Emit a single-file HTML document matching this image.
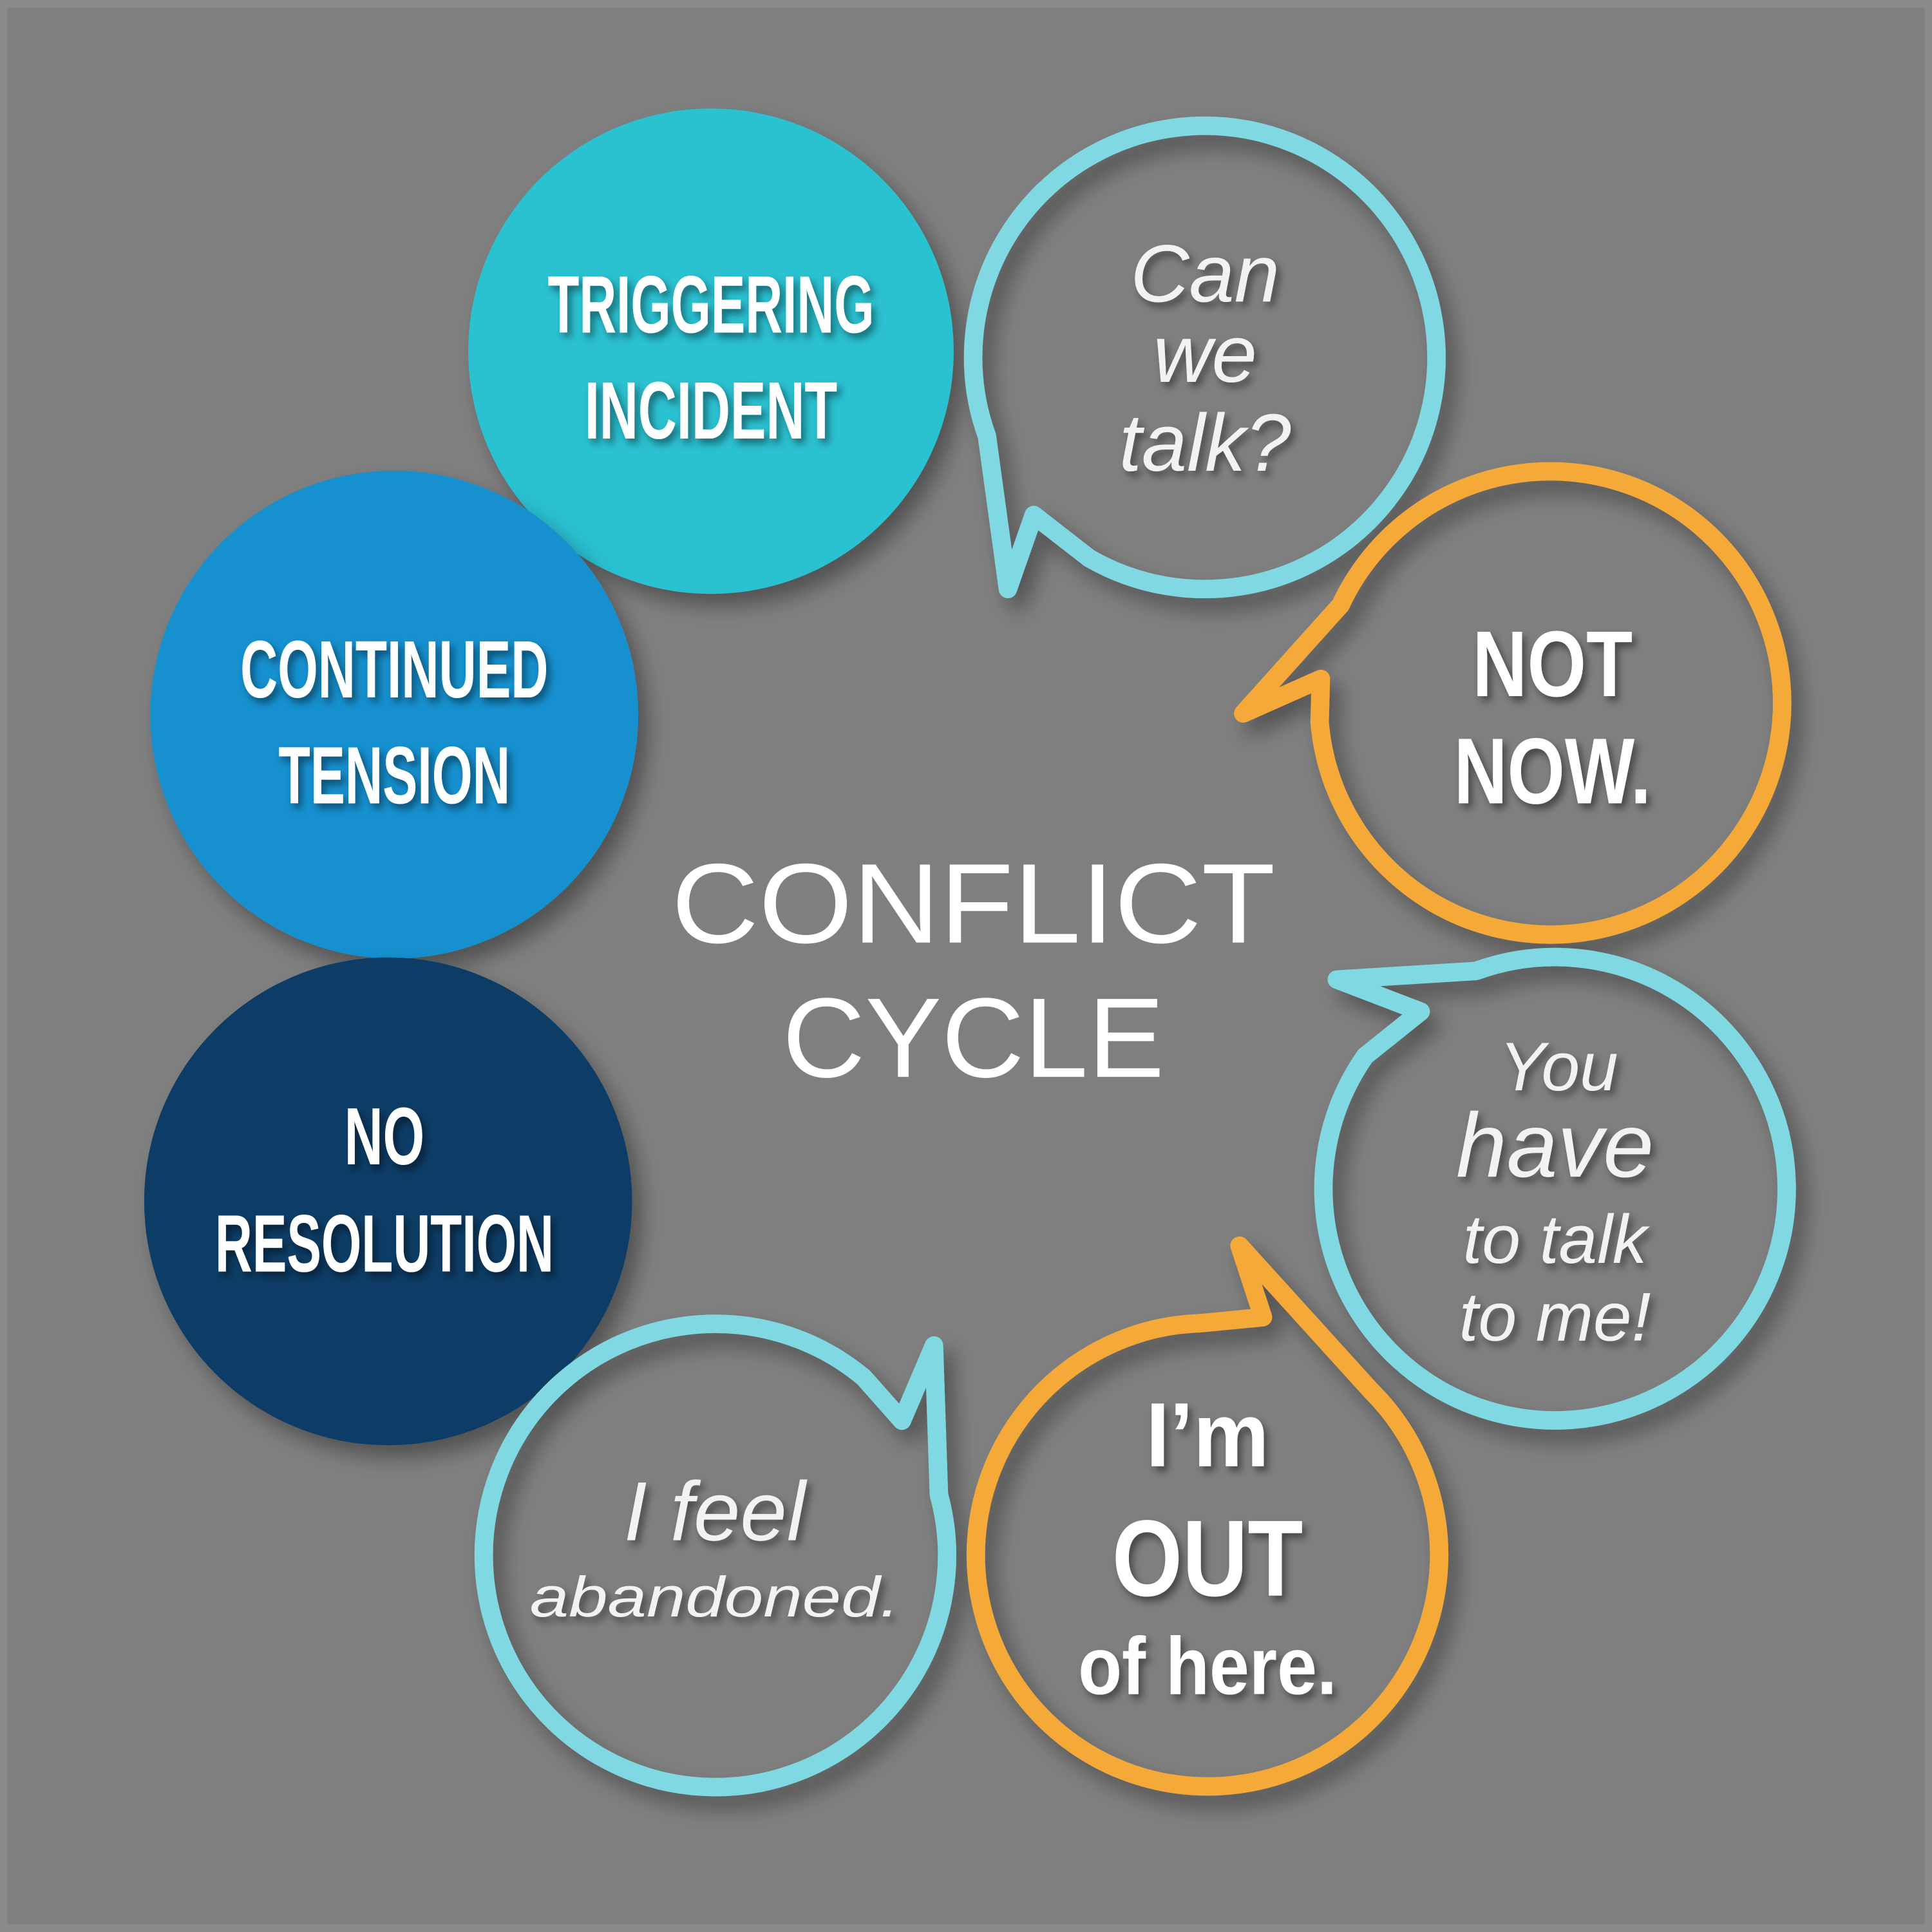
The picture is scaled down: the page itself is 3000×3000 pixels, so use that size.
<!DOCTYPE html>
<html><head><meta charset="utf-8"><style>
html,body{margin:0;padding:0;background:#7f7f7f}
svg{display:block}
.c{font-family:"Liberation Sans Narrow","Liberation Sans",sans-serif;font-weight:bold;fill:#fff;text-anchor:middle}
.i{font-family:"Liberation Sans",sans-serif;font-style:italic;fill:#f2f2f2;text-anchor:middle}
.t{font-family:"Liberation Sans",sans-serif;fill:#fff;text-anchor:middle}
</style></head><body>
<svg width="3000" height="3000" viewBox="0 0 1568 1568" xmlns="http://www.w3.org/2000/svg">
<defs>
<filter id="sh" x="-20%" y="-20%" width="150%" height="150%"><feDropShadow dx="8" dy="10" stdDeviation="8" flood-color="#000" flood-opacity="0.35"/></filter>
<filter id="ts" x="-10%" y="-20%" width="130%" height="150%"><feDropShadow dx="3" dy="4" stdDeviation="3" flood-color="#000" flood-opacity="0.45"/></filter>
</defs>
<rect width="1568" height="1568" fill="#7f7f7f"/>
<rect x="3" y="3" width="1562" height="1562" fill="none" stroke="#8a8a8a" stroke-width="6"/>

<circle cx="577" cy="285" r="197" fill="#2bc1d1" filter="url(#sh)"/>
<circle cx="320" cy="580" r="198" fill="#1990cf" filter="url(#sh)"/>
<circle cx="315" cy="975" r="198" fill="#0b3e66" filter="url(#sh)"/>

<g fill="none" stroke-width="15" stroke-linejoin="round" filter="url(#sh)">
 <!-- Can we talk: center 978,290 -->
 <path stroke="#7fd8e2" d="M801,354 A188,188 0 1 1 884,453 L839,418 L818,478 Z"/>
 <!-- Not now: center 1258,570 -->
 <path stroke="#f4a937" d="M1071,586 A188,188 0 1 0 1088,491 L1009,579 L1072,551 Z"/>
 <!-- You have: center 1262,965 -->
 <path stroke="#7fd8e2" d="M1108,857 A188,188 0 1 0 1198,788 L1085,795 L1153,821 Z"/>
 <!-- I'm out: center 980,1262 -->
 <path stroke="#f4a937" d="M973,1074 A188,188 0 1 0 1113,1129 L1006,1011 L1025,1069 Z"/>
 <!-- I feel: center 580,1262 -->
 <path stroke="#7fd8e2" d="M701,1118 A188,188 0 1 0 762,1213 L758,1092 L732,1153 Z"/>
</g>

<g class="c" filter="url(#ts)" font-size="66">
 <text x="577" y="270" textLength="265" lengthAdjust="spacingAndGlyphs">TRIGGERING</text>
 <text x="577" y="356" textLength="205" lengthAdjust="spacingAndGlyphs">INCIDENT</text>
 <text x="320" y="566" textLength="250" lengthAdjust="spacingAndGlyphs">CONTINUED</text>
 <text x="320" y="652" textLength="188" lengthAdjust="spacingAndGlyphs">TENSION</text>
 <text x="312" y="945" textLength="65" lengthAdjust="spacingAndGlyphs">NO</text>
 <text x="312" y="1032" textLength="275" lengthAdjust="spacingAndGlyphs">RESOLUTION</text>
</g>

<text class="t" x="790" y="765" font-size="92" textLength="490" lengthAdjust="spacingAndGlyphs">CONFLICT</text>
<text class="t" x="790" y="874" font-size="92" textLength="310" lengthAdjust="spacingAndGlyphs">CYCLE</text>

<g class="i" filter="url(#ts)">
 <text x="978" y="245" font-size="66">Can</text>
 <text x="978" y="310" font-size="66">we</text>
 <text x="978" y="382" font-size="66">talk?</text>
 <text x="1265" y="885" font-size="56">You</text>
 <text x="1262" y="955" font-size="74">have</text>
 <text x="1262" y="1025" font-size="56">to talk</text>
 <text x="1262" y="1088" font-size="56">to me!</text>
 <text x="580" y="1250" font-size="68">I feel</text>
 <text x="580" y="1312" font-size="46" textLength="300" lengthAdjust="spacingAndGlyphs">abandoned.</text>
</g>
<g class="c" filter="url(#ts)">
 <text x="1260" y="565" font-size="76" textLength="130" lengthAdjust="spacingAndGlyphs">NOT</text>
 <text x="1260" y="652" font-size="76" textLength="160" lengthAdjust="spacingAndGlyphs">NOW.</text>
 <text x="980" y="1190" font-size="74" textLength="100" lengthAdjust="spacingAndGlyphs">I’m</text>
 <text x="980" y="1295" font-size="88" textLength="155" lengthAdjust="spacingAndGlyphs">OUT</text>
 <text x="980" y="1375" font-size="66" textLength="210" lengthAdjust="spacingAndGlyphs">of here.</text>
</g>
</svg>
</body></html>
